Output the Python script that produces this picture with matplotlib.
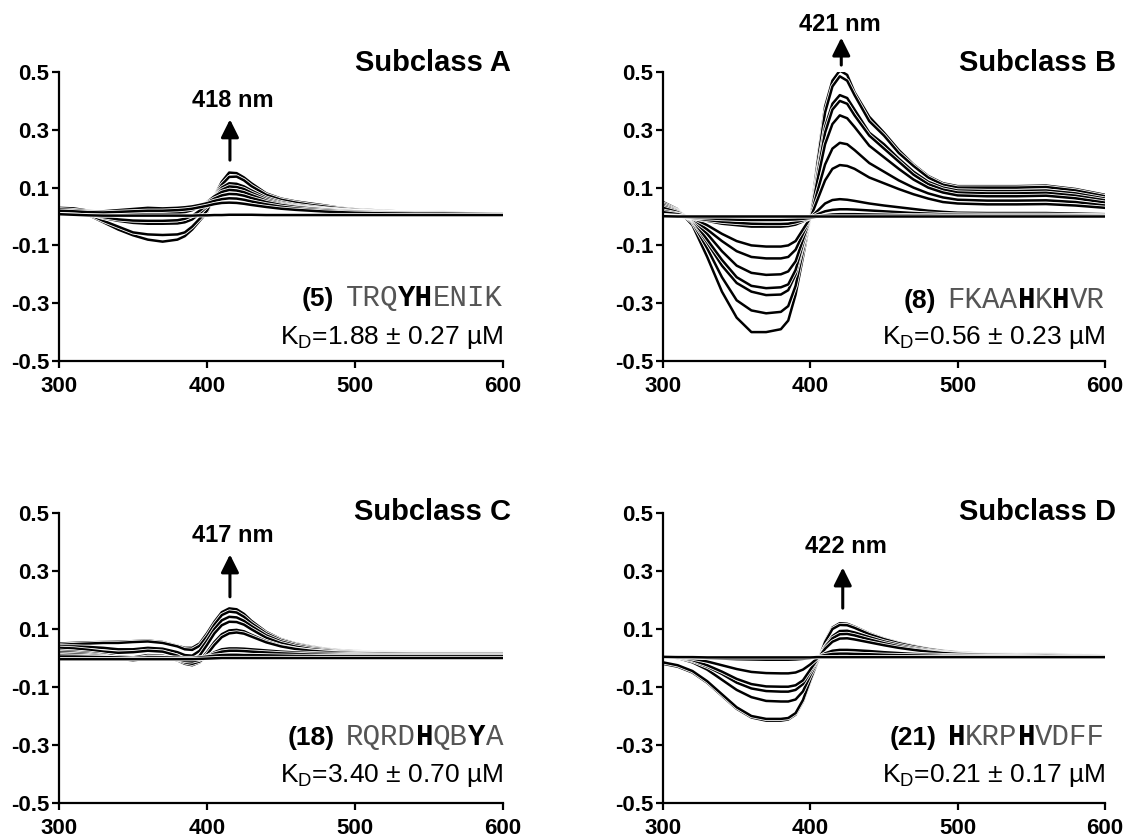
import matplotlib
matplotlib.use('Agg')
import matplotlib.pyplot as plt
import matplotlib.patheffects as pe
from matplotlib.offsetbox import TextArea, HPacker, AnnotationBbox

plt.rcParams['font.family'] = ['Liberation Sans', 'DejaVu Sans']
plt.rcParams['axes.unicode_minus'] = False
plt.rcParams['mathtext.fontset'] = 'custom'
plt.rcParams['mathtext.rm'] = 'Liberation Sans'
plt.rcParams['mathtext.default'] = 'regular'

# ---------------- data ----------------
wavelengths = [300, 310, 320, 330, 340, 350, 360, 370, 380, 385, 390, 395, 400, 405, 410,
               415, 420, 425, 430, 440, 450, 460, 470, 480, 490, 500, 520, 540, 560, 580, 600]

x_ticks = [300, 400, 500, 600]
y_ticks = [-0.5, -0.3, -0.1, 0.1, 0.3, 0.5]
y_tick_labels = ['-0.5', '-0.3', '-0.1', '0.1', '0.3', '0.5']

subclass_A = [
    [0.020, 0.020, 0.005, -0.020, -0.045, -0.065, -0.080, -0.087, -0.080, -0.068, -0.045, -0.015, 0.015, 0.070, 0.120, 0.152, 0.150, 0.135, 0.115, 0.080, 0.062, 0.052, 0.045, 0.038, 0.030, 0.025, 0.020, 0.015, 0.015, 0.012, 0.010],
    [0.025, 0.020, 0.008, -0.015, -0.035, -0.055, -0.062, -0.064, -0.062, -0.055, -0.035, -0.008, 0.020, 0.070, 0.110, 0.137, 0.138, 0.125, 0.105, 0.075, 0.058, 0.048, 0.040, 0.034, 0.028, 0.023, 0.018, 0.015, 0.014, 0.012, 0.010],
    [0.020, 0.018, 0.010, -0.005, -0.015, -0.022, -0.025, -0.025, -0.024, -0.020, -0.010, 0.010, 0.035, 0.070, 0.100, 0.115, 0.113, 0.104, 0.090, 0.065, 0.050, 0.040, 0.034, 0.028, 0.024, 0.020, 0.016, 0.014, 0.013, 0.012, 0.010],
    [0.015, 0.014, 0.008, -0.002, -0.010, -0.014, -0.015, -0.015, -0.013, -0.008, 0.002, 0.020, 0.040, 0.070, 0.092, 0.104, 0.102, 0.095, 0.082, 0.060, 0.046, 0.037, 0.031, 0.026, 0.022, 0.019, 0.015, 0.013, 0.012, 0.011, 0.010],
    [0.030, 0.025, 0.015, 0.010, 0.008, 0.008, 0.010, 0.010, 0.012, 0.015, 0.022, 0.035, 0.050, 0.070, 0.085, 0.092, 0.090, 0.084, 0.074, 0.055, 0.043, 0.035, 0.029, 0.025, 0.021, 0.018, 0.015, 0.013, 0.012, 0.011, 0.010],
    [0.030, 0.028, 0.020, 0.015, 0.017, 0.020, 0.022, 0.022, 0.024, 0.026, 0.030, 0.038, 0.048, 0.062, 0.073, 0.078, 0.077, 0.072, 0.064, 0.050, 0.040, 0.033, 0.028, 0.024, 0.020, 0.018, 0.015, 0.013, 0.012, 0.011, 0.010],
    [0.025, 0.022, 0.018, 0.018, 0.022, 0.026, 0.030, 0.028, 0.030, 0.032, 0.035, 0.040, 0.046, 0.054, 0.060, 0.063, 0.062, 0.058, 0.052, 0.042, 0.034, 0.028, 0.024, 0.021, 0.018, 0.016, 0.014, 0.012, 0.012, 0.011, 0.010],
    [0.020, 0.018, 0.015, 0.014, 0.016, 0.018, 0.020, 0.020, 0.022, 0.024, 0.027, 0.032, 0.037, 0.043, 0.047, 0.048, 0.047, 0.044, 0.040, 0.033, 0.027, 0.023, 0.020, 0.017, 0.015, 0.013, 0.011, 0.010, 0.010, 0.009, 0.008],
    [0.008, 0.006, 0.004, 0.003, 0.003, 0.003, 0.003, 0.003, 0.003, 0.003, 0.003, 0.004, 0.004, 0.005, 0.005, 0.006, 0.006, 0.006, 0.006, 0.005, 0.005, 0.005, 0.005, 0.005, 0.005, 0.005, 0.005, 0.005, 0.005, 0.005, 0.005],
]

subclass_B = [
    [0.050, 0.025, -0.030, -0.140, -0.260, -0.350, -0.400, -0.400, -0.390, -0.360, -0.270, -0.140, -0.005, 0.200, 0.380, 0.470, 0.505, 0.490, 0.430, 0.345, 0.290, 0.230, 0.180, 0.140, 0.115, 0.105, 0.105, 0.105, 0.107, 0.095, 0.075],
    [0.045, 0.022, -0.020, -0.110, -0.210, -0.290, -0.325, -0.335, -0.330, -0.310, -0.240, -0.120, -0.005, 0.190, 0.360, 0.450, 0.485, 0.470, 0.420, 0.330, 0.280, 0.220, 0.175, 0.135, 0.110, 0.100, 0.100, 0.100, 0.102, 0.090, 0.070],
    [0.040, 0.020, -0.015, -0.090, -0.170, -0.230, -0.260, -0.272, -0.270, -0.255, -0.200, -0.100, -0.005, 0.160, 0.310, 0.390, 0.420, 0.410, 0.370, 0.290, 0.250, 0.200, 0.155, 0.120, 0.100, 0.090, 0.088, 0.088, 0.090, 0.080, 0.062],
    [0.035, 0.018, -0.012, -0.080, -0.150, -0.210, -0.240, -0.248, -0.245, -0.235, -0.185, -0.095, -0.005, 0.150, 0.290, 0.370, 0.400, 0.390, 0.350, 0.280, 0.235, 0.190, 0.145, 0.112, 0.093, 0.083, 0.080, 0.080, 0.082, 0.072, 0.056],
    [0.030, 0.015, -0.010, -0.060, -0.120, -0.170, -0.195, -0.202, -0.200, -0.190, -0.155, -0.080, -0.005, 0.130, 0.250, 0.320, 0.350, 0.340, 0.310, 0.245, 0.205, 0.165, 0.128, 0.100, 0.083, 0.073, 0.070, 0.070, 0.072, 0.063, 0.048],
    [0.020, 0.010, -0.008, -0.045, -0.085, -0.120, -0.140, -0.145, -0.145, -0.140, -0.115, -0.060, -0.005, 0.090, 0.180, 0.235, 0.255, 0.250, 0.230, 0.185, 0.155, 0.125, 0.100, 0.080, 0.066, 0.058, 0.055, 0.055, 0.056, 0.050, 0.038],
    [0.015, 0.008, -0.005, -0.030, -0.060, -0.085, -0.100, -0.104, -0.104, -0.100, -0.085, -0.045, -0.005, 0.060, 0.125, 0.165, 0.178, 0.175, 0.165, 0.135, 0.115, 0.095, 0.077, 0.062, 0.050, 0.045, 0.042, 0.042, 0.043, 0.038, 0.030],
    [0.005, 0.002, -0.005, -0.015, -0.025, -0.030, -0.035, -0.035, -0.035, -0.033, -0.028, -0.017, -0.005, 0.020, 0.045, 0.057, 0.060, 0.058, 0.054, 0.045, 0.038, 0.032, 0.026, 0.020, 0.016, 0.013, 0.012, 0.012, 0.012, 0.010, 0.008],
    [0.003, 0.000, -0.005, -0.012, -0.018, -0.022, -0.025, -0.026, -0.026, -0.025, -0.020, -0.013, -0.005, 0.008, 0.018, 0.023, 0.025, 0.025, 0.024, 0.021, 0.018, 0.015, 0.012, 0.010, 0.008, 0.007, 0.006, 0.006, 0.006, 0.005, 0.004],
    [0.002, 0.000, -0.003, -0.006, -0.009, -0.011, -0.012, -0.012, -0.012, -0.011, -0.010, -0.008, -0.005, 0.000, 0.004, 0.007, 0.008, 0.008, 0.008, 0.007, 0.006, 0.005, 0.004, 0.004, 0.003, 0.003, 0.003, 0.003, 0.003, 0.003, 0.002],
    [0.001, 0.000, 0.000, 0.000, 0.000, 0.000, 0.000, 0.000, 0.000, 0.000, 0.000, 0.000, 0.000, 0.000, 0.000, 0.000, 0.000, 0.000, 0.000, 0.000, 0.000, 0.000, 0.000, 0.000, 0.000, 0.000, 0.000, 0.000, 0.000, 0.000, 0.000],
]

subclass_C = [
    [0.050, 0.052, 0.054, 0.055, 0.056, 0.058, 0.060, 0.055, 0.042, 0.035, 0.035, 0.050, 0.085, 0.125, 0.158, 0.171, 0.168, 0.152, 0.128, 0.090, 0.065, 0.050, 0.040, 0.032, 0.027, 0.024, 0.021, 0.020, 0.020, 0.020, 0.020],
    [0.045, 0.048, 0.050, 0.052, 0.052, 0.055, 0.057, 0.052, 0.040, 0.030, 0.028, 0.042, 0.075, 0.115, 0.148, 0.160, 0.157, 0.142, 0.120, 0.085, 0.062, 0.048, 0.038, 0.031, 0.026, 0.023, 0.020, 0.019, 0.019, 0.019, 0.019],
    [0.040, 0.040, 0.038, 0.035, 0.030, 0.030, 0.035, 0.032, 0.020, 0.010, 0.008, 0.025, 0.060, 0.100, 0.130, 0.142, 0.140, 0.128, 0.110, 0.078, 0.057, 0.044, 0.035, 0.029, 0.024, 0.021, 0.019, 0.018, 0.018, 0.018, 0.018],
    [0.035, 0.033, 0.028, 0.022, 0.018, 0.020, 0.025, 0.022, 0.008, -0.005, -0.010, 0.008, 0.045, 0.085, 0.113, 0.125, 0.124, 0.115, 0.099, 0.070, 0.051, 0.039, 0.031, 0.026, 0.022, 0.020, 0.018, 0.017, 0.017, 0.017, 0.017],
    [0.025, 0.022, 0.018, 0.012, 0.005, 0.002, 0.010, 0.008, -0.005, -0.018, -0.022, -0.010, 0.020, 0.055, 0.082, 0.095, 0.097, 0.092, 0.080, 0.058, 0.042, 0.032, 0.026, 0.022, 0.019, 0.018, 0.017, 0.016, 0.016, 0.016, 0.016],
    [0.020, 0.018, 0.014, 0.008, 0.000, -0.005, 0.005, 0.004, -0.008, -0.020, -0.025, -0.015, 0.012, 0.045, 0.072, 0.085, 0.088, 0.084, 0.074, 0.054, 0.040, 0.031, 0.025, 0.021, 0.018, 0.017, 0.016, 0.015, 0.015, 0.015, 0.015],
    [0.015, 0.013, 0.010, 0.006, 0.000, -0.008, 0.000, 0.002, -0.005, -0.015, -0.020, -0.012, 0.005, 0.020, 0.030, 0.033, 0.033, 0.032, 0.030, 0.026, 0.022, 0.019, 0.017, 0.015, 0.014, 0.013, 0.012, 0.012, 0.012, 0.012, 0.012],
    [0.010, 0.008, 0.006, 0.003, -0.002, -0.008, -0.002, 0.000, -0.004, -0.010, -0.012, -0.006, 0.005, 0.015, 0.022, 0.025, 0.025, 0.024, 0.022, 0.019, 0.016, 0.014, 0.012, 0.011, 0.010, 0.010, 0.010, 0.010, 0.010, 0.010, 0.010],
    [0.005, 0.005, 0.004, 0.003, 0.002, 0.000, 0.002, 0.002, 0.001, 0.000, 0.000, 0.002, 0.005, 0.008, 0.010, 0.011, 0.011, 0.010, 0.010, 0.009, 0.008, 0.007, 0.007, 0.006, 0.006, 0.006, 0.006, 0.006, 0.006, 0.006, 0.006],
    [-0.004, -0.004, -0.004, -0.004, -0.004, -0.004, -0.004, -0.004, -0.004, -0.004, -0.004, -0.003, -0.002, -0.001, 0.000, 0.000, 0.000, 0.000, 0.000, 0.000, 0.000, 0.000, 0.000, 0.000, 0.000, 0.000, 0.000, 0.000, 0.000, 0.000, 0.000],
]

subclass_D = [
    [-0.020, -0.030, -0.050, -0.085, -0.130, -0.175, -0.205, -0.216, -0.216, -0.212, -0.195, -0.150, -0.080, -0.012, 0.058, 0.105, 0.120, 0.118, 0.108, 0.085, 0.067, 0.053, 0.042, 0.032, 0.025, 0.020, 0.014, 0.013, 0.014, 0.011, 0.009],
    [-0.015, -0.025, -0.045, -0.080, -0.125, -0.170, -0.200, -0.210, -0.210, -0.207, -0.190, -0.145, -0.075, -0.012, 0.055, 0.100, 0.114, 0.113, 0.104, 0.082, 0.065, 0.051, 0.040, 0.031, 0.024, 0.019, 0.014, 0.013, 0.014, 0.011, 0.009],
    [0.005, 0.000, -0.015, -0.040, -0.075, -0.110, -0.135, -0.148, -0.150, -0.150, -0.143, -0.115, -0.060, -0.010, 0.040, 0.075, 0.093, 0.094, 0.088, 0.072, 0.057, 0.045, 0.035, 0.027, 0.021, 0.017, 0.013, 0.012, 0.013, 0.010, 0.008],
    [0.005, 0.002, -0.010, -0.030, -0.055, -0.085, -0.105, -0.114, -0.116, -0.116, -0.110, -0.090, -0.048, -0.005, 0.038, 0.068, 0.082, 0.083, 0.078, 0.064, 0.051, 0.040, 0.031, 0.024, 0.019, 0.015, 0.012, 0.011, 0.012, 0.010, 0.008],
    [0.005, 0.003, -0.007, -0.025, -0.047, -0.072, -0.090, -0.098, -0.099, -0.099, -0.094, -0.077, -0.040, -0.003, 0.032, 0.056, 0.067, 0.068, 0.064, 0.054, 0.044, 0.035, 0.028, 0.022, 0.017, 0.014, 0.011, 0.010, 0.011, 0.009, 0.007],
    [0.005, 0.004, -0.002, -0.012, -0.025, -0.038, -0.048, -0.052, -0.053, -0.053, -0.050, -0.040, -0.022, 0.000, 0.016, 0.025, 0.028, 0.028, 0.027, 0.024, 0.020, 0.017, 0.014, 0.012, 0.010, 0.009, 0.008, 0.008, 0.009, 0.008, 0.006],
    [0.005, 0.004, 0.002, 0.000, -0.002, -0.004, -0.005, -0.006, -0.006, -0.006, -0.005, -0.003, 0.000, 0.005, 0.010, 0.014, 0.015, 0.015, 0.014, 0.013, 0.011, 0.010, 0.009, 0.008, 0.007, 0.007, 0.006, 0.006, 0.007, 0.006, 0.005],
    [0.004, 0.003, 0.003, 0.002, 0.002, 0.002, 0.002, 0.002, 0.002, 0.002, 0.002, 0.002, 0.002, 0.003, 0.003, 0.003, 0.003, 0.003, 0.003, 0.003, 0.003, 0.003, 0.003, 0.003, 0.003, 0.003, 0.003, 0.003, 0.003, 0.003, 0.003],
]

titles = ['Subclass A', 'Subclass B', 'Subclass C', 'Subclass D']
peak_labels = ['418 nm', '421 nm', '417 nm', '422 nm']
compound_ids = ['(5)', '(8)', '(18)', '(21)']
# peptide sequences: (segment, bold?)
sequences = [
    [('TRQ', False), ('YH', True), ('ENIK', False)],
    [('FKAA', False), ('H', True), ('K', False), ('H', True), ('VR', False)],
    [('RQRD', False), ('H', True), ('QB', False), ('Y', True), ('A', False)],
    [('H', True), ('KRP', False), ('H', True), ('VDFF', False)],
]
kd_labels = ['1.88 ± 0.27', '0.56 ± 0.23', '3.40 ± 0.70', '0.21 ± 0.17']

# ---------------- layout ----------------
W, H = 1128, 840
def px_rect(x0, x1, ytop, ybot):
    return [x0 / W, 1 - ybot / H, (x1 - x0) / W, (ybot - ytop) / H]

positions = [px_rect(59, 503, 72, 361), px_rect(663, 1105, 72, 361),
             px_rect(59, 503, 513, 803), px_rect(663, 1105, 513, 803)]
title_pos = [(1.018, 1.031), (1.025, 1.031), (1.018, 1.002), (1.025, 1.002)]
arrow_specs = [  # x, y_start, y_end, label_x, label_y
    (415.5, 0.195, 0.336, 417.6, 0.403),
    (421.0, 0.524, 0.619, 420.0, 0.664),
    (415.5, 0.211, 0.357, 417.5, 0.424),
    (422.0, 0.172, 0.312, 424.0, 0.384),
]
seq_y = [0.218, 0.211, 0.229, 0.229]
kd_y = [0.080, 0.080, 0.094, 0.094]

fig = plt.figure(figsize=(W / 100, H / 100), dpi=100)
all_curves = [subclass_A, subclass_B, subclass_C, subclass_D]

for i in range(4):
    ax = fig.add_axes(positions[i])
    for curve in all_curves[i]:
        ax.plot(wavelengths, curve, color='black', lw=1.8, solid_joinstyle='round',
                solid_capstyle='round',
                path_effects=[pe.Stroke(linewidth=3.0, foreground='white'), pe.Normal()])
    ax.set_xlim(300, 600)
    ax.set_ylim(-0.5, 0.5)
    ax.set_xticks(x_ticks)
    ax.set_xticklabels([str(t) for t in x_ticks])
    ax.set_yticks(y_ticks)
    ax.set_yticklabels(y_tick_labels)
    for s in ['top', 'right']:
        ax.spines[s].set_visible(False)
    for s in ['left', 'bottom']:
        ax.spines[s].set_linewidth(1.6)
    ax.tick_params(axis='both', direction='out', length=5, width=1.6, labelsize=16)
    ax.tick_params(axis='x', pad=6)
    ax.tick_params(axis='y', pad=2)
    for lab in ax.get_xticklabels() + ax.get_yticklabels():
        lab.set_fontweight('bold')

    tx, ty = title_pos[i]
    ax.text(tx, ty, titles[i], transform=ax.transAxes, ha='right', va='center',
            fontsize=21, fontweight='bold', clip_on=False)

    axx, y0, y1, lx, ly = arrow_specs[i]
    ax.annotate('', xy=(axx, y1), xytext=(axx, y0),
                arrowprops=dict(arrowstyle='-|>,head_length=0.6,head_width=0.3',
                                color='black', lw=2.2, mutation_scale=18,
                                shrinkA=0, shrinkB=0),
                annotation_clip=False)
    ax.text(lx, ly, peak_labels[i], ha='center', va='center', fontsize=17,
            fontweight='bold', clip_on=False)

    # peptide label
    id_area = TextArea(compound_ids[i], textprops=dict(fontfamily='Liberation Sans',
                       fontweight='bold', fontsize=19, color='black'))
    seq_children = []
    for seg, bold in sequences[i]:
        seq_children.append(TextArea(seg, textprops=dict(
            fontfamily='Liberation Mono', fontweight='bold' if bold else 'normal',
            fontsize=21, color='black' if bold else '#555555')))
    seq_box = HPacker(children=seq_children, align='baseline', pad=0, sep=0)
    box = HPacker(children=[id_area, seq_box], align='baseline', pad=0, sep=8)
    ab = AnnotationBbox(box, (1.0, seq_y[i]), xycoords='axes fraction',
                        box_alignment=(1, 0.5), frameon=False, pad=0)
    ax.add_artist(ab)

    ax.text(1.0, kd_y[i], r'K$_{\mathrm{D}}$=' + kd_labels[i] + ' µM',
            transform=ax.transAxes, ha='right', va='center', fontsize=19,
            fontweight='normal', clip_on=False)

fig.savefig('out.png', dpi=100)
